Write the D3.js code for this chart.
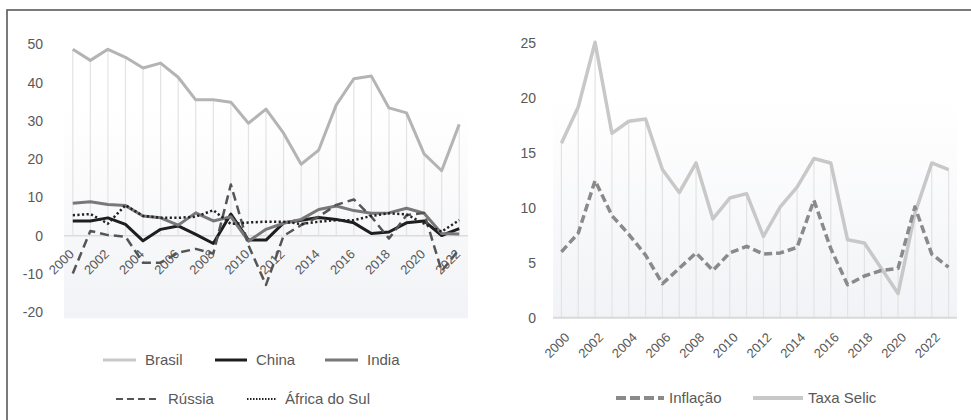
<!DOCTYPE html>
<html>
<head>
<meta charset="utf-8">
<script src="https://cdn.jsdelivr.net/npm/d3@7"></script>
<style>
body { margin: 0; background: #fff; }
text { font-family: "Liberation Sans", Arial, sans-serif; fill: #595959; }
</style>
</head>
<body>
<div class="svg-container"></div>
<script>
//Data - left chart (BRICS)
const yearsLeft = [2000,2001,2002,2003,2004,2005,2006,2007,2008,2009,2010,2011,2012,2013,2014,2015,2016,2017,2018,2019,2020,2021,2022];
const brasil  = [48.7,45.8,48.7,46.6,43.8,45.1,41.4,35.5,35.5,34.9,29.4,33.1,26.8,18.7,22.4,34.2,41.0,41.7,33.4,32.1,21.4,17.0,29.1];
const china   = [3.9,3.9,4.7,3.0,-1.3,1.7,2.6,0.4,-2.0,5.7,-1.1,-1.1,3.4,4.1,4.8,4.3,3.4,0.6,1.0,3.4,3.9,0.1,1.9];
const india   = [8.5,8.9,8.2,7.9,5.2,4.7,2.8,6.0,3.9,5.0,-1.4,1.7,3.3,4.3,6.9,7.8,6.6,5.9,6.0,7.2,5.9,0.6,0.5];
const russia  = [-9.8,1.3,0.2,-0.2,-7.0,-7.0,-4.4,-3.4,-4.6,13.4,-2.5,-12.8,0.0,2.8,5.0,8.1,9.5,5.0,-0.7,5.4,6.0,-9.2,-3.5];
const africa  = [5.4,5.7,3.2,8.0,5.2,4.7,4.7,5.0,6.7,3.1,3.5,3.7,3.7,3.1,3.7,4.1,4.1,5.2,5.9,5.6,3.2,1.1,4.1];
const leftTicks = [-20,-10,0,10,20,30,40,50];

//Data - right chart (Brasil)
const yearsRight = [2000,2001,2002,2003,2004,2005,2006,2007,2008,2009,2010,2011,2012,2013,2014,2015,2016,2017,2018,2019,2020,2021,2022,2023];
const inflacao = [6.0,7.7,12.5,9.3,7.6,5.7,3.1,4.5,5.9,4.3,5.9,6.5,5.8,5.9,6.4,10.7,6.3,3.0,3.8,4.3,4.5,10.1,5.8,4.6];
const selic    = [15.9,19.2,25.1,16.8,17.9,18.1,13.5,11.4,14.1,9.0,10.9,11.3,7.4,10.1,11.9,14.5,14.1,7.1,6.8,4.5,2.2,9.5,14.1,13.5];
const rightTicks = [0,5,10,15,20,25];

const W = 971, H = 420;

const svg = d3.select('.svg-container')
    .append('svg')
    .attr('width', W)
    .attr('height', H);

//gradient used by both plot areas
const grad = svg.append('defs').append('linearGradient')
    .attr('id', 'plotbg')
    .attr('x1', 0).attr('y1', 0).attr('x2', 0).attr('y2', 1);
grad.append('stop').attr('offset', '0%').attr('stop-color', '#ffffff');
grad.append('stop').attr('offset', '25%').attr('stop-color', '#ffffff');
grad.append('stop').attr('offset', '100%').attr('stop-color', '#f2f3f6');

//outer frame
svg.append('rect')
    .attr('x', 7).attr('y', 10)
    .attr('width', W + 20).attr('height', H + 20)
    .attr('fill', 'none')
    .attr('stroke', '#5a5a5a')
    .attr('stroke-width', 1.6);

///////////////////////////////////////////////////////////////
// LEFT CHART
const xL = d3.scalePoint().domain(yearsLeft).range([64, 468]).padding(0.5);
const yL = d3.scaleLinear().domain([-20, 50]).range([312.5, 44.3]);

const left = svg.append('g').attr('class', 'left-chart');

left.append('rect')
    .attr('x', 64).attr('y', yL(51.5))
    .attr('width', 404).attr('height', yL(-21.5) - yL(51.5))
    .attr('fill', 'url(#plotbg)');

const leftSeries = [
    {name: 'Brasil', values: brasil, color: '#b4b4b4', width: 3, dash: null},
    {name: 'China', values: china, color: '#1e1e1e', width: 3, dash: null},
    {name: 'India', values: india, color: '#787878', width: 3, dash: null},
    {name: 'Rússia', values: russia, color: '#555555', width: 2.5, dash: '9,5'},
    {name: 'África do Sul', values: africa, color: '#222222', width: 2.5, dash: '2.2,2.4'}
];

//drop lines
left.append('g')
    .selectAll('line')
    .data(yearsLeft)
    .enter()
    .append('line')
    .attr('x1', d => xL(d)).attr('x2', d => xL(d))
    .attr('y1', (d, i) => yL(d3.max(leftSeries, s => s.values[i])))
    .attr('y2', yL(0))
    .attr('stroke', '#e3e3e3')
    .attr('stroke-width', 1.2);

//zero line
left.append('line')
    .attr('x1', 64).attr('x2', 468)
    .attr('y1', yL(0)).attr('y2', yL(0))
    .attr('stroke', '#dcdcdc')
    .attr('stroke-width', 1.5);

//y tick labels
left.append('g')
    .selectAll('text')
    .data(leftTicks)
    .enter()
    .append('text')
    .attr('x', 43)
    .attr('y', d => yL(d))
    .attr('dy', '0.35em')
    .attr('text-anchor', 'end')
    .style('font-size', '14px')
    .text(d => d);

//x labels
left.append('g')
    .selectAll('text')
    .data(yearsLeft.filter(d => d % 2 === 0))
    .enter()
    .append('text')
    .attr('transform', d => `translate(${xL(d) + 2},${yL(0) + 19}) rotate(-45)`)
    .attr('text-anchor', 'end')
    .style('font-size', '13px')
    .text(d => d);

const lineL = d3.line().x((d, i) => xL(yearsLeft[i])).y(d => yL(d));

left.append('g')
    .selectAll('path')
    .data(leftSeries)
    .enter()
    .append('path')
    .attr('d', d => lineL(d.values))
    .attr('fill', 'none')
    .attr('stroke', d => d.color)
    .attr('stroke-width', d => d.width)
    .attr('stroke-dasharray', d => d.dash)
    .attr('stroke-linejoin', 'round');

//legend
const legendLeft = [
    {s: leftSeries[0], x: 103, y: 360, sample: 33, legColor: '#c8c8c8'},
    {s: leftSeries[1], x: 215, y: 360, sample: 32, legColor: '#1e1e1e'},
    {s: leftSeries[2], x: 325, y: 360, sample: 33, legColor: '#787878'},
    {s: leftSeries[3], x: 116, y: 399, sample: 44, legColor: '#555555'},
    {s: leftSeries[4], x: 247, y: 399, sample: 30, legColor: '#222222'}
];
const legL = left.append('g').selectAll('g').data(legendLeft).enter().append('g');
legL.append('line')
    .attr('x1', d => d.x).attr('x2', d => d.x + d.sample)
    .attr('y1', d => d.y).attr('y2', d => d.y)
    .attr('stroke', d => d.legColor)
    .attr('stroke-width', d => d.s.dash ? 2 : 3)
    .attr('stroke-dasharray', d => d.s.dash === '9,5' ? '7,4' : (d.s.dash ? '1.5,1.5' : null));
legL.append('text')
    .attr('x', d => d.x + d.sample + (d.s.dash ? 8 : 9))
    .attr('y', d => d.y)
    .attr('dy', '0.35em')
    .style('font-size', '15px')
    .text(d => d.s.name);

///////////////////////////////////////////////////////////////
// RIGHT CHART
const xR = d3.scalePoint().domain(yearsRight).range([553, 957]).padding(0.5);
const yR = d3.scaleLinear().domain([0, 25]).range([317.7, 43.3]);

const right = svg.append('g').attr('class', 'right-chart');

right.append('rect')
    .attr('x', 553).attr('y', yR(26.5))
    .attr('width', 404).attr('height', yR(0) - yR(26.5))
    .attr('fill', 'url(#plotbg)');

right.append('g')
    .selectAll('line')
    .data(yearsRight)
    .enter()
    .append('line')
    .attr('x1', d => xR(d)).attr('x2', d => xR(d))
    .attr('y1', (d, i) => yR(Math.max(selic[i], inflacao[i])))
    .attr('y2', yR(0))
    .attr('stroke', '#e3e3e3')
    .attr('stroke-width', 1.2);

right.append('line')
    .attr('x1', 553).attr('x2', 957)
    .attr('y1', yR(0)).attr('y2', yR(0))
    .attr('stroke', '#d9d9d9')
    .attr('stroke-width', 2);

right.append('g')
    .selectAll('text')
    .data(rightTicks)
    .enter()
    .append('text')
    .attr('x', 536)
    .attr('y', d => yR(d))
    .attr('dy', '0.35em')
    .attr('text-anchor', 'end')
    .style('font-size', '14px')
    .text(d => d);

right.append('g')
    .selectAll('text')
    .data(yearsRight.filter(d => d % 2 === 0))
    .enter()
    .append('text')
    .attr('transform', d => `translate(${xR(d) + 9},${yR(0) + 20.5}) rotate(-45)`)
    .attr('text-anchor', 'end')
    .style('font-size', '13px')
    .text(d => d);

const lineR = d3.line().x((d, i) => xR(yearsRight[i])).y(d => yR(d));

const rightSeries = [
    {name: 'Taxa Selic', values: selic, color: '#c8c8c8', dash: null},
    {name: 'Inflação', values: inflacao, color: '#8a8a8a', dash: '8,4'}
];

right.append('g')
    .selectAll('path')
    .data(rightSeries)
    .enter()
    .append('path')
    .attr('d', d => lineR(d.values))
    .attr('fill', 'none')
    .attr('stroke', d => d.color)
    .attr('stroke-width', 3.5)
    .attr('stroke-dasharray', d => d.dash)
    .attr('stroke-linejoin', 'round');

const legendRight = [
    {s: rightSeries[1], x: 616, y: 398, sample: 48},
    {s: rightSeries[0], x: 753, y: 398, sample: 50}
];
const legR = right.append('g').selectAll('g').data(legendRight).enter().append('g');
legR.append('line')
    .attr('x1', d => d.x).attr('x2', d => d.x + d.sample)
    .attr('y1', d => d.y).attr('y2', d => d.y)
    .attr('stroke', d => d.s.color)
    .attr('stroke-width', 4)
    .attr('stroke-dasharray', d => d.s.dash ? '10,4' : null);
legR.append('text')
    .attr('x', d => d.x + d.sample + 5)
    .attr('y', d => d.y)
    .attr('dy', '0.35em')
    .style('font-size', '15px')
    .text(d => d.s.name);
</script>
</body>
</html>
